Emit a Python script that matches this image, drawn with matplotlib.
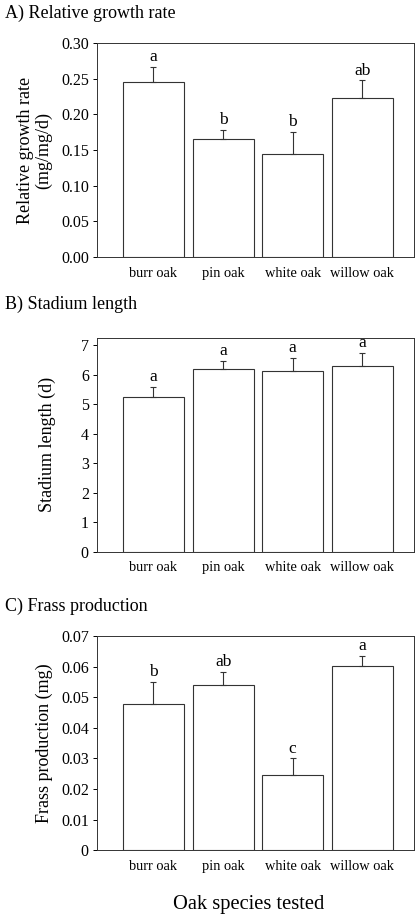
import numpy as np
import matplotlib
matplotlib.use("Agg")
import matplotlib.pyplot as plt

plt.rcParams['font.family'] = ['Liberation Serif', 'DejaVu Serif']

# Data
species = ["burr oak", "pin oak", "white oak", "willow oak"]

rgr_mean = [0.246, 0.165, 0.145, 0.223]
rgr_err = [0.021, 0.013, 0.031, 0.025]
rgr_letters = ["a", "b", "b", "ab"]

stadium_mean = [5.25, 6.18, 6.14, 6.30]
stadium_err = [0.34, 0.29, 0.44, 0.44]
stadium_letters = ["a", "a", "a", "a"]

frass_mean = [0.0478, 0.0540, 0.0245, 0.0602]
frass_err = [0.0073, 0.0043, 0.0055, 0.0034]
frass_letters = ["b", "ab", "c", "a"]

panels = [
    ("A) Relative growth rate", "Relative growth rate\n(mg/mg/d)",
     rgr_mean, rgr_err, rgr_letters, (0, 0.30), np.arange(0, 0.31, 0.05), "{:.2f}"),
    ("B) Stadium length", "Stadium length (d)",
     stadium_mean, stadium_err, stadium_letters, (0, 7.25), np.arange(0, 8, 1), "{:.0f}"),
    ("C) Frass production", "Frass production (mg)",
     frass_mean, frass_err, frass_letters, (0, 0.07), np.arange(0, 0.071, 0.01), None),
]

fig = plt.figure(figsize=(4.15, 9.18), dpi=100)

bottoms = [0.720, 0.399, 0.074]
title_y = [0.985, 0.668, 0.339]
ylabel_x = [0.083, 0.115, 0.106]

x = np.arange(len(species))
for i, (title, ylabel, mean, err, letters, ylim, ticks, fmt) in enumerate(panels):
    ax = fig.add_axes([0.234, bottoms[i], 0.763, 0.233])
    ax.bar(x, mean, width=0.875, color="white", edgecolor="#333333",
           linewidth=0.8, yerr=[np.zeros(len(err)), err], capsize=2,
           error_kw=dict(elinewidth=0.8, ecolor="#333333", capthick=0.8))
    ax.set_xlim(-0.81, 3.74)
    ax.set_ylim(*ylim)
    ax.set_yticks(ticks)
    if fmt:
        ax.set_yticklabels([fmt.format(t) for t in ticks])
    else:
        ax.set_yticklabels(["0"] + ["{:.2f}".format(t) for t in ticks[1:]])
    ax.set_xticks(x)
    ax.set_xticklabels(species, fontsize=10.4)
    ax.tick_params(axis="x", length=0, pad=7)
    ax.tick_params(axis="y", length=3, width=0.7, labelsize=11.5, pad=3)
    for s in ax.spines.values():
        s.set_linewidth(0.7)
        s.set_color("#333333")
    span = ylim[1] - ylim[0]
    for xi, m, e, lab in zip(x, mean, err, letters):
        ax.text(xi, m + e + span * 0.008, lab, ha="center", va="bottom", fontsize=12.5)
    fig.text(0.012, title_y[i], title, fontsize=13, ha="left", va="center")
    fig.text(ylabel_x[i], bottoms[i] + 0.1165, ylabel, rotation=90, fontsize=13,
             ha="center", va="center", linespacing=1.05)

fig.text(0.6, 0.015, "Oak species tested", fontsize=14.8, ha="center", va="center")

fig.savefig("out.png", dpi=100)
